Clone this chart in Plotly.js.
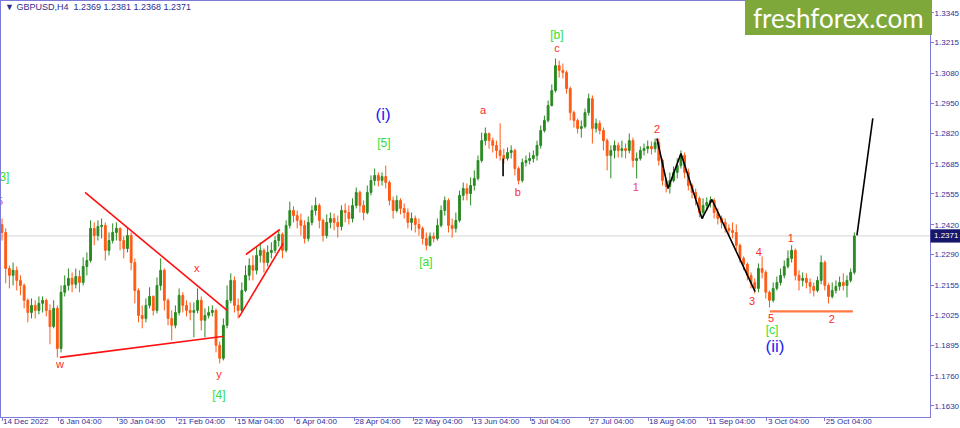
<!DOCTYPE html>
<html>
<head>
<meta charset="utf-8">
<script src="https://cdn.plot.ly/plotly-3.0.1.min.js"></script>
<style>html,body{margin:0;padding:0;background:#fff;}#chart{width:960px;height:428px;}</style>
</head>
<body>
<div id="chart"></div>
<script>
// ---- Data: GBPUSD daily-resolution reading of the H4 chart (bar index, prices) ----
const barOpen = [
1.2420,1.2386,1.2229,1.2199,1.2221,1.2177,1.2155,1.2090,1.2037,1.2068,
1.2046,1.2077,1.2090,1.2046,1.1976,1.2055,1.1880,1.2125,1.2155,1.2186,
1.2160,1.2194,1.2168,1.2238,1.2264,1.2404,1.2373,1.2412,1.2417,1.2308,
1.2351,1.2386,1.2404,1.2351,1.2316,1.2373,1.2255,1.2133,1.2024,1.2011,
1.2068,1.2107,1.2046,1.2155,1.2221,1.2090,1.2011,1.1981,1.2037,1.2112,
1.2068,1.2046,1.2037,1.2046,1.2090,1.2003,1.2024,1.2037,1.2046,1.1894,
1.1837,1.1981,1.2090,1.2177,1.2068,1.2046,1.2133,1.2199,1.2242,1.2221,
1.2286,1.2308,1.2255,1.2299,1.2308,1.2351,1.2378,1.2308,1.2417,1.2482,
1.2460,1.2439,1.2417,1.2360,1.2430,1.2482,1.2504,1.2439,1.2373,1.2430,
1.2447,1.2430,1.2412,1.2482,1.2473,1.2447,1.2504,1.2561,1.2504,1.2473,
1.2561,1.2613,1.2635,1.2613,1.2630,1.2604,1.2526,1.2482,1.2526,1.2491,
1.2473,1.2430,1.2447,1.2421,1.2404,1.2360,1.2330,1.2369,1.2360,1.2417,
1.2482,1.2526,1.2417,1.2404,1.2439,1.2548,1.2578,1.2556,1.2591,1.2622,
1.2700,1.2787,1.2818,1.2787,1.2766,1.2744,1.2722,1.2709,1.2735,1.2744,
1.2665,1.2613,1.2691,1.2700,1.2709,1.2722,1.2766,1.2831,1.2875,1.2940,
1.3005,1.3114,1.3093,1.3084,1.3014,1.2909,1.2875,1.2840,1.2848,1.2909,
1.2970,1.2840,1.2862,1.2831,1.2787,1.2722,1.2744,1.2766,1.2744,1.2752,
1.2744,1.2787,1.2700,1.2709,1.2744,1.2752,1.2761,1.2752,1.2779,1.2700,
1.2613,1.2587,1.2613,1.2648,1.2678,1.2722,1.2648,1.2591,1.2561,1.2535,
1.2473,1.2504,1.2517,1.2526,1.2473,1.2447,1.2430,1.2404,1.2395,1.2386,
1.2330,1.2273,1.2247,1.2199,1.2168,1.2142,1.2229,1.2212,1.2125,1.2090,
1.2142,1.2168,1.2199,1.2238,1.2273,1.2308,1.2199,1.2177,1.2186,1.2168,
1.2151,1.2133,1.2177,1.2255,1.2155,1.2107,1.2133,1.2151,1.2168,1.2155,
1.2177,1.2212];
const barHigh = [
1.2447,1.2404,1.2242,1.2255,1.2238,1.2199,1.2164,1.2098,1.2098,1.2090,
1.2107,1.2107,1.2098,1.2072,1.2090,1.2068,1.2155,1.2199,1.2229,1.2212,
1.2229,1.2221,1.2277,1.2299,1.2439,1.2430,1.2439,1.2447,1.2430,1.2386,
1.2426,1.2430,1.2408,1.2369,1.2408,1.2386,1.2273,1.2142,1.2068,1.2098,
1.2147,1.2112,1.2190,1.2273,1.2229,1.2098,1.2046,1.2068,1.2142,1.2125,
1.2090,1.2081,1.2081,1.2142,1.2107,1.2055,1.2064,1.2068,1.2055,1.1910,
1.2011,1.2155,1.2208,1.2194,1.2098,1.2168,1.2242,1.2273,1.2286,1.2321,
1.2343,1.2316,1.2330,1.2343,1.2369,1.2395,1.2386,1.2439,1.2521,1.2500,
1.2482,1.2469,1.2439,1.2456,1.2504,1.2539,1.2513,1.2447,1.2465,1.2473,
1.2469,1.2460,1.2504,1.2513,1.2504,1.2535,1.2582,1.2569,1.2526,1.2591,
1.2635,1.2665,1.2648,1.2648,1.2678,1.2613,1.2543,1.2548,1.2535,1.2513,
1.2491,1.2473,1.2460,1.2447,1.2412,1.2386,1.2386,1.2386,1.2447,1.2504,
1.2543,1.2535,1.2447,1.2473,1.2569,1.2604,1.2600,1.2626,1.2657,1.2722,
1.2822,1.2844,1.2822,1.2800,1.2787,1.2862,1.2752,1.2757,1.2766,1.2752,
1.2674,1.2709,1.2722,1.2735,1.2744,1.2787,1.2853,1.2896,1.2962,1.3032,
1.3145,1.3136,1.3123,1.3093,1.3023,1.2918,1.2883,1.2875,1.2927,1.2992,
1.2984,1.2883,1.2875,1.2844,1.2796,1.2766,1.2787,1.2779,1.2787,1.2774,
1.2818,1.2800,1.2735,1.2761,1.2774,1.2787,1.2783,1.2796,1.2796,1.2709,
1.2622,1.2648,1.2674,1.2709,1.2744,1.2735,1.2665,1.2600,1.2578,1.2543,
1.2535,1.2539,1.2543,1.2535,1.2491,1.2460,1.2447,1.2421,1.2430,1.2421,
1.2338,1.2282,1.2255,1.2212,1.2186,1.2251,1.2282,1.2221,1.2133,1.2168,
1.2194,1.2229,1.2264,1.2308,1.2330,1.2316,1.2221,1.2212,1.2208,1.2186,
1.2168,1.2194,1.2286,1.2264,1.2164,1.2168,1.2177,1.2194,1.2208,1.2199,
1.2229,1.2386];
const barLow = [
1.2351,1.2164,1.2142,1.2155,1.2133,1.2112,1.2055,1.1994,1.2011,1.2011,
1.2029,1.2037,1.2020,1.1898,1.1968,1.1841,1.1863,1.2107,1.2133,1.2125,
1.2142,1.2125,1.2155,1.2199,1.2255,1.2330,1.2351,1.2360,1.2264,1.2286,
1.2338,1.2351,1.2308,1.2273,1.2299,1.2221,1.2077,1.1994,1.1968,1.1994,
1.2055,1.2024,1.2033,1.2133,1.2046,1.1981,1.1915,1.1968,1.2024,1.2037,
1.2020,1.2003,1.1928,1.2033,1.1959,1.1928,1.2011,1.2020,1.1863,1.1815,
1.1828,1.1968,1.2077,1.2037,1.2011,1.2037,1.2125,1.2177,1.2177,1.2203,
1.2255,1.2212,1.2238,1.2273,1.2295,1.2325,1.2273,1.2299,1.2404,1.2430,
1.2404,1.2373,1.2338,1.2347,1.2417,1.2460,1.2404,1.2347,1.2360,1.2404,
1.2395,1.2364,1.2395,1.2430,1.2421,1.2430,1.2491,1.2473,1.2439,1.2465,
1.2548,1.2591,1.2587,1.2591,1.2578,1.2504,1.2447,1.2473,1.2465,1.2447,
1.2404,1.2395,1.2386,1.2373,1.2334,1.2308,1.2325,1.2343,1.2351,1.2408,
1.2460,1.2386,1.2364,1.2386,1.2430,1.2526,1.2526,1.2504,1.2569,1.2613,
1.2691,1.2766,1.2752,1.2735,1.2709,1.2700,1.2687,1.2700,1.2709,1.2635,
1.2596,1.2604,1.2674,1.2683,1.2691,1.2700,1.2752,1.2822,1.2866,1.2936,
1.2997,1.3062,1.3058,1.2992,1.2875,1.2844,1.2818,1.2800,1.2840,1.2896,
1.2774,1.2822,1.2814,1.2744,1.2657,1.2622,1.2709,1.2713,1.2713,1.2709,
1.2731,1.2670,1.2622,1.2700,1.2722,1.2731,1.2726,1.2735,1.2678,1.2591,
1.2561,1.2556,1.2604,1.2622,1.2665,1.2622,1.2569,1.2535,1.2504,1.2452,
1.2447,1.2482,1.2495,1.2447,1.2421,1.2404,1.2386,1.2369,1.2360,1.2308,
1.2255,1.2221,1.2177,1.2142,1.2120,1.2125,1.2186,1.2098,1.2059,1.2081,
1.2133,1.2155,1.2186,1.2229,1.2255,1.2177,1.2133,1.2151,1.2142,1.2120,
1.2107,1.2125,1.2160,1.2133,1.2077,1.2098,1.2120,1.2133,1.2133,1.2103,
1.2168,1.2203];
const barClose = [
1.2386,1.2229,1.2199,1.2221,1.2177,1.2155,1.2090,1.2037,1.2068,1.2046,
1.2077,1.2090,1.2046,1.1976,1.2055,1.1880,1.2125,1.2155,1.2186,1.2160,
1.2194,1.2168,1.2238,1.2264,1.2404,1.2373,1.2412,1.2417,1.2308,1.2351,
1.2386,1.2404,1.2351,1.2316,1.2373,1.2255,1.2133,1.2024,1.2011,1.2068,
1.2107,1.2046,1.2155,1.2221,1.2090,1.2011,1.1981,1.2037,1.2112,1.2068,
1.2046,1.2037,1.2046,1.2090,1.2003,1.2024,1.2037,1.2046,1.1894,1.1837,
1.1981,1.2090,1.2177,1.2068,1.2046,1.2133,1.2199,1.2242,1.2221,1.2286,
1.2308,1.2255,1.2299,1.2308,1.2351,1.2378,1.2308,1.2417,1.2482,1.2460,
1.2439,1.2417,1.2360,1.2430,1.2482,1.2504,1.2439,1.2373,1.2430,1.2447,
1.2430,1.2412,1.2482,1.2473,1.2447,1.2504,1.2561,1.2504,1.2473,1.2561,
1.2613,1.2635,1.2613,1.2630,1.2604,1.2526,1.2482,1.2526,1.2491,1.2473,
1.2430,1.2447,1.2421,1.2404,1.2360,1.2330,1.2369,1.2360,1.2417,1.2482,
1.2526,1.2417,1.2404,1.2439,1.2548,1.2578,1.2556,1.2591,1.2622,1.2700,
1.2787,1.2818,1.2787,1.2766,1.2744,1.2722,1.2709,1.2735,1.2744,1.2665,
1.2613,1.2691,1.2700,1.2709,1.2722,1.2766,1.2831,1.2875,1.2940,1.3005,
1.3114,1.3093,1.3084,1.3014,1.2909,1.2875,1.2840,1.2848,1.2909,1.2970,
1.2840,1.2862,1.2831,1.2787,1.2722,1.2744,1.2766,1.2744,1.2752,1.2744,
1.2787,1.2700,1.2709,1.2744,1.2752,1.2761,1.2752,1.2779,1.2700,1.2613,
1.2587,1.2613,1.2648,1.2678,1.2722,1.2648,1.2591,1.2561,1.2535,1.2473,
1.2504,1.2517,1.2526,1.2473,1.2447,1.2430,1.2404,1.2395,1.2386,1.2330,
1.2273,1.2247,1.2199,1.2168,1.2142,1.2229,1.2212,1.2125,1.2090,1.2142,
1.2168,1.2199,1.2238,1.2273,1.2308,1.2199,1.2177,1.2186,1.2168,1.2151,
1.2133,1.2177,1.2255,1.2155,1.2107,1.2133,1.2151,1.2168,1.2155,1.2177,
1.2212,1.2371];

// x-axis date labels and the bar index where each one sits
const dateLabels = ["14 Dec 2022","6 Jan 04:00","30 Jan 04:00","21 Feb 04:00","15 Mar 04:00","6 Apr 04:00",
  "28 Apr 04:00","22 May 04:00","13 Jun 04:00","5 Jul 04:00","27 Jul 04:00","18 Aug 04:00",
  "11 Sep 04:00","3 Oct 04:00","25 Oct 04:00"];
const dateLabelBars = [0,15.4,31.4,47.4,63.4,79.4,95.4,111.4,127.4,143.1,159.1,175.1,191.1,207.3,223.0];
// price-scale labels
const priceTicks = [1.3345,1.3215,1.3080,1.2950,1.2820,1.2685,1.2555,1.2420,1.2290,1.2155,1.2025,1.1895,1.1760,1.1630];
const lastPrice = 1.2371;

// Elliott-wave labels: text, bar index, price, kind
const waveText  = ["[3]","5","w","x","y","[4]","(i)","[5]","[a]","a","b","[b]","c","2","1","4","1","3","5","2","[c]","(ii)"];
const waveBar   = [0.2,-0.5,15.7,52.8,58.8,58.8,103.3,103.5,114.9,130.4,139.8,150.4,150.4,177.5,171.8,205.1,213.8,203.3,208.4,224.9,208.7,209.5];
const wavePrice = [1.2622,1.2517,1.1806,1.2225,1.1762,1.1671,1.2896,1.2770,1.2255,1.2914,1.2556,1.3242,1.3184,1.2831,1.2578,1.2295,1.2356,1.2081,1.2007,1.2003,1.1955,1.1881];
const waveKind  = ["g","p","r","r","r","g","b","g","g","r","r","g","r","r","p","r","r","r","r","r","g","b"];

// drawn trend lines (bar index, price)
const triUpperBars = [22.5,61.0],  triUpperPrices = [1.2561,1.2046];
const triLowerBars = [15.7,60.2],  triLowerPrices = [1.1841,1.1933];
const wedgeUpBars  = [66.1,75.3],  wedgeUpPrices  = [1.2290,1.2399];
const wedgeLoBars  = [64.2,76.2],  wedgeLoPrices  = [1.2016,1.2338];
const zigBars   = [177.5,180.5,184.0,189.7,192.4,204.1];
const zigPrices = [1.2796,1.2578,1.2731,1.2447,1.2530,1.2128];
const projBars = [231.7,236.0], projPrices = [1.2373,1.2884];
const baseBars = [208.1,230.6], basePrices = [1.2042,1.2042];
const markBars = [135.8,135.8], markPrices = [1.2709,1.2631];

// ---- Build ----
const barIdx = barClose.map((_, i) => i);
const kindColor = {r:"#FF2A2A", p:"#F23C78", g:"#33E033", b:"#2222EE"};
const kindSize  = {r:11, p:11, g:12, b:17};

const traces = [
  {type:"candlestick", x:barIdx, open:barOpen, high:barHigh, low:barLow, close:barClose,
   increasing:{line:{color:"#2A8A22", width:1}, fillcolor:"#2A8A22"},
   decreasing:{line:{color:"#FF5A14", width:1}, fillcolor:"#FF5A14"},
   whiskerwidth:0, hoverinfo:"skip", showlegend:false},
  {type:"scatter", mode:"lines", x:[...triUpperBars,null,...triLowerBars,null,...wedgeUpBars,null,...wedgeLoBars],
   y:[...triUpperPrices,null,...triLowerPrices,null,...wedgeUpPrices,null,...wedgeLoPrices],
   line:{color:"#FF1010", width:1.6}, hoverinfo:"skip", showlegend:false},
  {type:"scatter", mode:"lines", x:[...zigBars,null,...projBars,null,...markBars], y:[...zigPrices,null,...projPrices,null,...markPrices],
   line:{color:"#000000", width:1.6}, hoverinfo:"skip", showlegend:false},
  {type:"scatter", mode:"lines", x:baseBars, y:basePrices,
   line:{color:"#FF7A45", width:2.2}, hoverinfo:"skip", showlegend:false},
  {type:"scatter", mode:"text", x:waveBar, y:wavePrice, text:waveText, cliponaxis:true,
   textposition:"middle center",
   textfont:{family:"Liberation Sans, Arial, sans-serif", color:waveKind.map(k=>kindColor[k]), size:waveKind.map(k=>kindSize[k])},
   hoverinfo:"skip", showlegend:false}
];

const axisBlue = "#7C7CD8";
const labelBlue = "#30309A";
const W = 960, H = 428, mL = 1, mR = 30, mT = 1, mB = 11;
const pw = W - mL - mR, ph = H - mT - mB;
const px = v => (v - mL) / pw;          // page x -> paper x
const py = v => (H - mB - v) / ph;      // page y -> paper y

const layout = {
  width:W, height:H,
  margin:{l:mL, r:mR, t:mT, b:mB, pad:0},
  paper_bgcolor:"#FFFFFF", plot_bgcolor:"#FFFFFF",
  showlegend:false,
  xaxis:{range:[-0.27,251.5], showgrid:false, zeroline:false, showline:true, mirror:true,
    linecolor:axisBlue, linewidth:1, ticks:"outside", ticklen:3, tickcolor:axisBlue,
    tickvals:dateLabelBars, ticktext:dateLabels, tickangle:0,
    ticklabelposition:"outside right", ticklabelstandoff:-4, ticklabeloverflow:"allow",
    tickfont:{family:"Liberation Sans, Arial, sans-serif", size:8, color:labelBlue},
    rangeslider:{visible:false}, fixedrange:true, automargin:false},
  yaxis:{side:"right", range:[1.1581,1.3396], showgrid:false, zeroline:false, showline:true, mirror:true,
    linecolor:axisBlue, linewidth:1, ticks:"outside", ticklen:3, tickcolor:axisBlue,
    tickvals:priceTicks, ticktext:priceTicks.map(v=>v.toFixed(4)), ticklabelstandoff:-1,
    tickfont:{family:"Liberation Sans, Arial, sans-serif", size:8, color:labelBlue},
    fixedrange:true, automargin:false},
  shapes:[
    {type:"line", xref:"paper", yref:"y", x0:0, x1:1, y0:lastPrice, y1:lastPrice,
     line:{color:"#D4D4D4", width:1}, layer:"below"},
    {type:"rect", xref:"paper", yref:"y", x0:1.0005, x1:px(960), y0:lastPrice-0.0029, y1:lastPrice+0.0029,
     fillcolor:"#16166A", line:{width:0}, layer:"above"},
    {type:"rect", xref:"paper", yref:"paper", x0:px(745), x1:px(932), y0:py(35), y1:py(0),
     fillcolor:"#7FA83A", line:{width:0}, layer:"above"}
  ],
  annotations:[
    {xref:"paper", yref:"y", x:px(946), y:lastPrice, text:lastPrice.toFixed(4), showarrow:false,
     font:{family:"Liberation Sans, Arial, sans-serif", size:8, color:"#FFFFFF"}, xanchor:"center", yanchor:"middle"},
    {xref:"paper", yref:"paper", x:px(838), y:py(18), text:"freshforex.com", showarrow:false,
     font:{family:"Lato, Open Sans, sans-serif", size:26, color:"#FFFFFF"}, xanchor:"center", yanchor:"middle"},
    {xref:"paper", yref:"paper", x:px(3), y:py(7), text:"\u25BC GBPUSD,H4  1.2369 1.2381 1.2368 1.2371", showarrow:false,
     font:{family:"Liberation Sans, Arial, sans-serif", size:9, color:"#2E2E90"}, xanchor:"left", yanchor:"middle"}
  ]
};

Plotly.newPlot("chart", traces, layout, {staticPlot:true, displayModeBar:false});
</script>
</body>
</html>
